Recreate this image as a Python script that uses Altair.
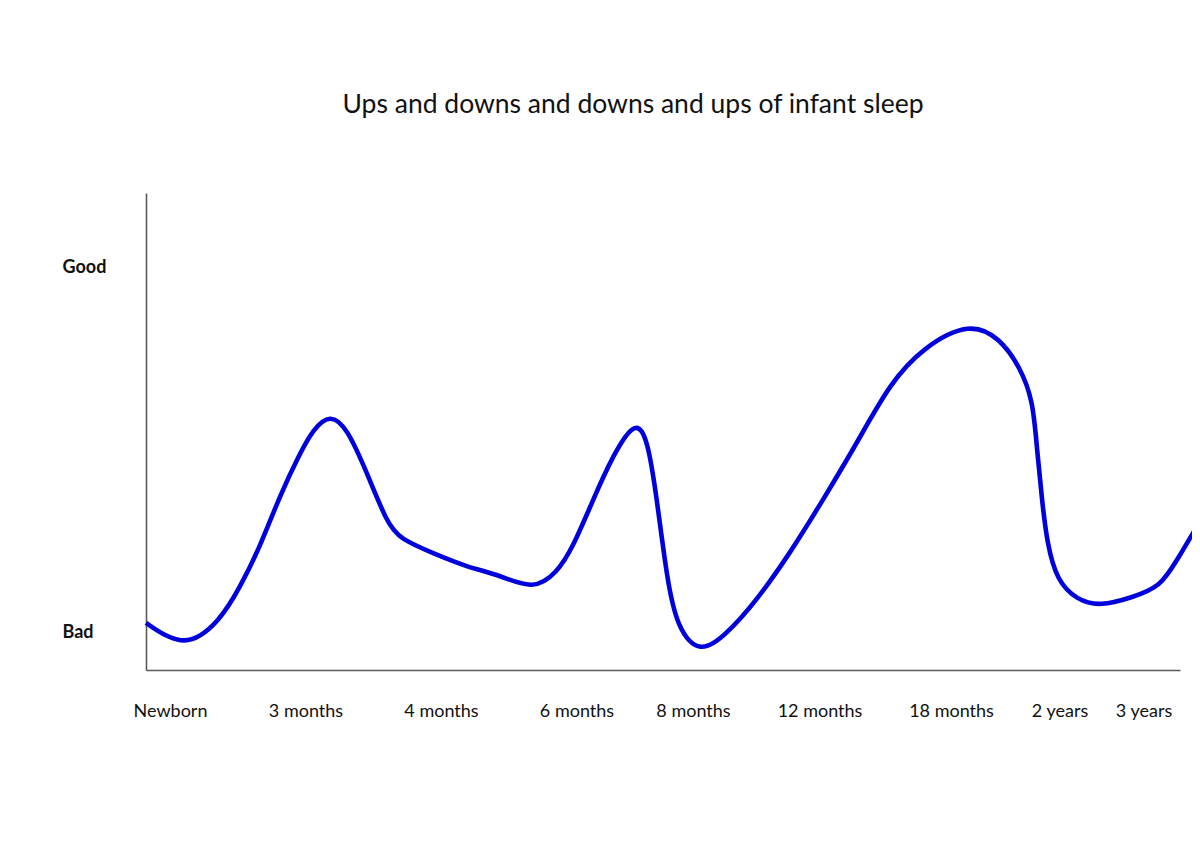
import altair as alt
import pandas as pd

# Curve: x = position along the time axis, y = sleep quality (Bad = 0, Good = 10)
pos = [0.0, 3.9, 7.4, 9.4, 11.4, 13.4, 15.4, 16.7, 18.4, 20.1, 22.1, 24.1, 25.4, 28.7,
       32.1, 35.4, 38.7, 41.1, 42.7, 44.7, 46.7, 49.0, 50.2, 51.1, 52.1, 53.1, 55.4,
       58.1, 61.1, 64.4, 67.7, 71.1, 74.4, 77.7, 82.4, 85.4, 87.4, 88.7, 89.1, 89.6,
       90.1, 91.1, 93.1, 95.4, 98.7, 101.4, 103.1, 105.1]
quality = [0.25, -0.48, 0.30, 1.23, 2.33, 3.75, 4.90, 5.55, 5.98, 5.60, 4.36, 2.99, 2.55, 2.16,
           1.78, 1.56, 1.15, 1.62, 2.33, 3.62, 4.85, 5.85, 5.25, 3.62, 1.45, 0.12, -0.62,
           -0.05, 0.88, 2.16, 3.62, 5.18, 6.82, 7.80, 8.50, 8.05, 7.26, 6.36, 4.99, 3.62,
           2.44, 1.40, 0.88, 0.70, 0.96, 1.23, 1.97, 2.90]

# Age labels and their positions along the axis
age_labels = ["Newborn", "3 months", "4 months", "6 months", "8 months",
              "12 months", "18 months", "2 years", "3 years"]
age_pos = [2.4, 15.95, 29.5, 43.05, 54.7, 67.35, 80.5, 91.35, 99.75]

# Quality labels
quality_labels = ["Bad", "Good"]
quality_vals = [0, 10]

df = pd.DataFrame({"pos": pos, "quality": quality})

x_expr = " : ".join(
    f"datum.value == {p} ? '{l}'" for p, l in zip(age_pos, age_labels)
) + " : ''"
y_expr = " : ".join(
    f"datum.value == {v} ? '{l}'" for v, l in zip(quality_vals, quality_labels)
) + " : ''"

FONT = "Lato"

chart = alt.Chart(df).mark_line(
    color="#0000DD", strokeWidth=4.6, interpolate="basis", clip=False
).encode(
    x=alt.X("pos:Q", scale=alt.Scale(domain=[0, 103.4], nice=False, zero=False),
            axis=alt.Axis(values=age_pos, labelExpr=x_expr, title=None, grid=False,
                          ticks=False, tickSize=0, labelPadding=32, labelFontSize=18,
                          labelFont=FONT, labelColor="#111111", domainColor="#5a5a5a",
                          domainWidth=1.6, labelAngle=0, labelOverlap=False)),
    y=alt.Y("quality:Q", scale=alt.Scale(domain=[-1.04, 12.03], nice=False, zero=False),
            axis=alt.Axis(values=quality_vals, labelExpr=y_expr, title=None, grid=False,
                          ticks=False, tickSize=0, labelPadding=84, labelAlign="left",
                          labelFontSize=18, labelFontWeight="bold", labelFont=FONT,
                          labelColor="#111111", domainColor="#5a5a5a", domainWidth=1.6)),
).properties(
    width=1034,
    height=477,
    title=alt.TitleParams("Ups and downs and downs and ups of infant sleep",
                          font=FONT, fontSize=26.5, fontWeight="normal", color="#111111",
                          anchor="middle", dx=-30, offset=75),
    autosize=alt.AutoSizeParams(type="none"),
    padding={"left": 138, "top": 185, "right": 12, "bottom": 170},
    background="white",
).configure_view(strokeWidth=0, stroke="transparent")

chart.save("out.html", embed_options={"renderer": "svg", "actions": False})
